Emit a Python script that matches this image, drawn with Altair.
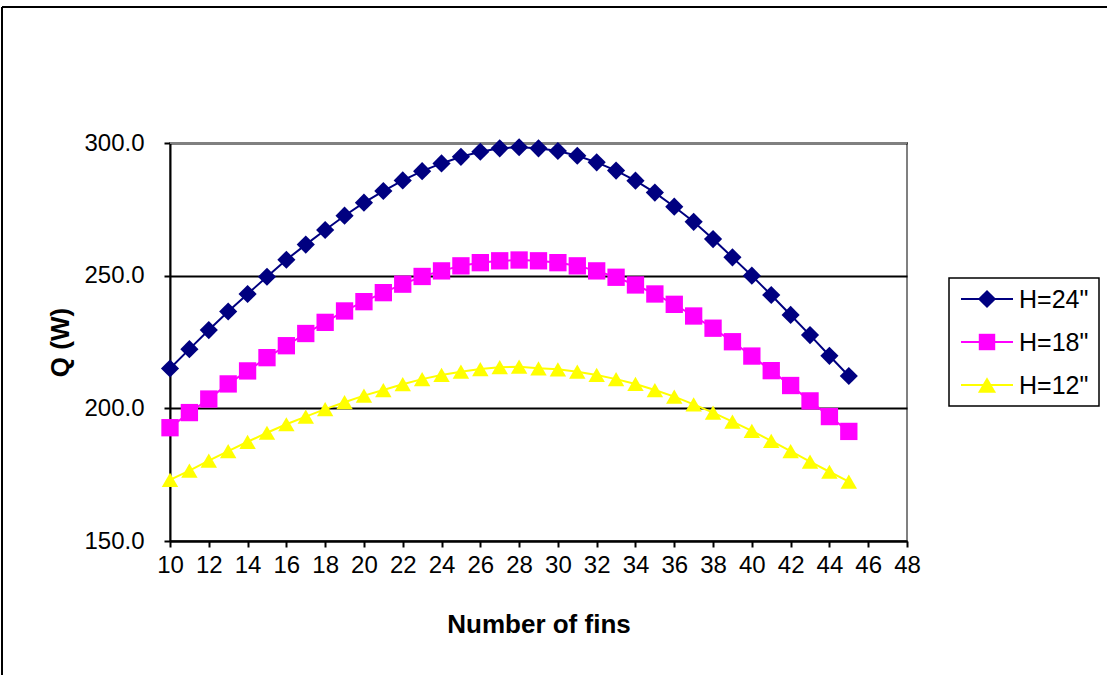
import altair as alt
import pandas as pd

# Number of fins on the heat sink
fins = list(range(10, 46))

# Heat dissipated Q (W) for three fin heights
q_h24 = [215.0, 222.3, 229.5, 236.5, 243.1, 249.6, 256.0, 261.7, 267.2, 272.6,
         277.5, 281.9, 285.9, 289.4, 292.3, 294.8, 296.7, 298.0, 298.4, 298.0,
         297.0, 295.2, 292.7, 289.6, 285.8, 281.3, 276.0, 270.3, 263.8, 256.9,
         250.0, 242.7, 235.2, 227.6, 219.8, 212.2]
q_h18 = [192.7, 198.4, 203.5, 209.2, 214.1, 219.1, 223.6, 228.2, 232.4, 236.7,
         240.2, 243.6, 246.8, 249.7, 251.8, 253.7, 254.9, 255.6, 255.9, 255.6,
         254.9, 253.7, 251.8, 249.4, 246.5, 243.1, 239.2, 234.8, 230.2, 225.1,
         219.7, 214.2, 208.6, 202.8, 196.9, 191.3]
q_h12 = [173.0, 176.5, 180.3, 183.9, 187.4, 190.8, 194.0, 196.9, 199.7, 202.3,
         204.8, 206.9, 209.1, 211.0, 212.6, 213.8, 214.8, 215.5, 215.7, 215.1,
         214.7, 213.8, 212.6, 211.0, 209.2, 206.9, 204.4, 201.5, 198.4, 195.0,
         191.5, 187.7, 183.9, 179.9, 176.1, 172.4]

series_names = ['H=24"', 'H=18"', 'H=12"']
series_colors = ["#000080", "#FF00FF", "#FFFF00"]
series_shapes = ["diamond", "square", "triangle-up"]
series_sizes = [330, 270, 330]

x_ticks = list(range(10, 50, 2))
y_ticks = [150, 200, 250, 300]

FONT = "Liberation Sans"

rows = []
for name, vals in zip(series_names, [q_h24, q_h18, q_h12]):
    for n, q in zip(fins, vals):
        rows.append({"fins": n, "Q": q, "series": name})
df = pd.DataFrame(rows)

W, H = 737, 398
LEFT, TOP = 170, 143

common_axis = dict(
    domainColor="black", domainWidth=2, tickColor="black", tickWidth=2,
    gridColor="black", gridWidth=2, gridOpacity=1,
    labelFont=FONT, labelFontSize=24, labelColor="black", labelOverlap=False,
    labelFlush=False, labelBound=False, titleFont=FONT, titleColor="black",
    titleFontSize=26, titleFontWeight="bold",
)

x_enc = alt.X("fins:Q", scale=alt.Scale(domain=[10, 48], nice=False, zero=False),
              axis=alt.Axis(values=x_ticks, tickCount=len(x_ticks), format="d",
                            title="Number of fins", grid=False, tickSize=6,
                            labelPadding=6, titlePadding=34, **common_axis))
y_enc = alt.Y("Q:Q", scale=alt.Scale(domain=[150, 300], nice=False, zero=False),
              axis=alt.Axis(values=y_ticks, format=".1f", title="Q (W)",
                            grid=True, tickSize=6, labelPadding=20,
                            titleX=-110, titleY=H / 2, titleAngle=270,
                            titleBaseline="middle", titleAlign="center",
                            **common_axis))

color_scale = alt.Scale(domain=series_names, range=series_colors)
shape_scale = alt.Scale(domain=series_names, range=series_shapes)
size_scale = alt.Scale(domain=series_names, range=series_sizes)

base = alt.Chart(df).encode(
    x=x_enc, y=y_enc,
    color=alt.Color("series:N", scale=color_scale, legend=None),
)
lines = base.mark_line(strokeWidth=2).encode(detail="series:N")
points = base.mark_point(filled=True, opacity=1).encode(
    shape=alt.Shape("series:N", scale=shape_scale, legend=None),
    size=alt.Size("series:N", scale=size_scale, legend=None),
)

# gray plot-area border along the top
top_border = alt.Chart(pd.DataFrame({"a": [0]})).mark_rule(
    color="#808080", strokeWidth=2).encode(
    x=alt.value(0), x2=alt.value(W), y=alt.value(0))

# outer chart frame (top and left edges)
frame_top = alt.Chart(pd.DataFrame({"a": [0]})).mark_rule(
    color="black", strokeWidth=2).encode(
    x=alt.value(2 - LEFT), x2=alt.value(1107 - LEFT), y=alt.value(7 - TOP))
frame_left = alt.Chart(pd.DataFrame({"a": [0]})).mark_rule(
    color="black", strokeWidth=2).encode(
    x=alt.value(2 - LEFT), y=alt.value(7 - TOP), y2=alt.value(675 - TOP))

# legend box with line + marker samples
lg_left, lg_right, lg_top, lg_bottom = 949 - LEFT, 1099 - LEFT, 278 - TOP, 406 - TOP
legend_layers = [
    alt.Chart(pd.DataFrame({"a": [0]})).mark_rect(
        fill="white", stroke="black", strokeWidth=1.5).encode(
        x=alt.value(lg_left), x2=alt.value(lg_right),
        y=alt.value(lg_top), y2=alt.value(lg_bottom))
]
row_y = [299 - TOP, 342 - TOP, 385 - TOP]
for name, col, shp, sz, ry in zip(series_names, series_colors, series_shapes,
                                  series_sizes, row_y):
    ldf = pd.DataFrame({"series": [name]})
    legend_layers.append(alt.Chart(ldf).mark_rule(color=col, strokeWidth=2).encode(
        x=alt.value(961 - LEFT), x2=alt.value(1013 - LEFT), y=alt.value(ry)))
    legend_layers.append(alt.Chart(ldf).mark_point(
        filled=True, opacity=1, color=col, shape=shp, size=sz).encode(
        x=alt.value(987 - LEFT), y=alt.value(ry)))
    legend_layers.append(alt.Chart(ldf).mark_text(
        align="left", baseline="middle", font=FONT, fontSize=25, color="black").encode(
        x=alt.value(1019 - LEFT), y=alt.value(ry + 1), text="series:N"))

chart = alt.layer(
    lines, top_border, points, frame_top, frame_left, *legend_layers
).properties(
    width=W, height=H,
    padding={"left": LEFT, "top": TOP, "right": 1107 - LEFT - W, "bottom": 675 - TOP - H},
    autosize=alt.AutoSizeParams(type="none"),
).configure(
    background="white"
).configure_view(
    stroke="#808080", strokeWidth=2
)

chart.save("out.html", embed_options={"renderer": "svg", "actions": False})
